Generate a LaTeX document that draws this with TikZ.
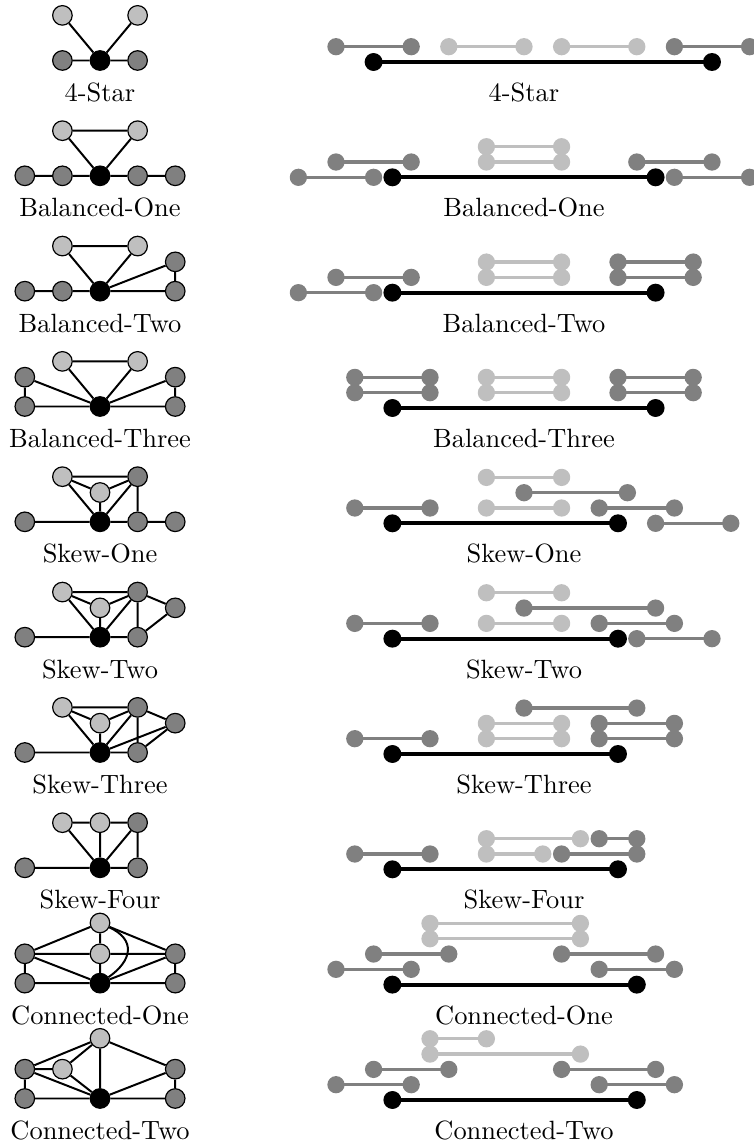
\documentclass[tikz,border=0pt]{standalone}
\usetikzlibrary{calc}
\tikzset{
 gn/.style={circle, draw=black, line width=0.9pt, minimum size=0.52cm, inner sep=0pt},
 gl/.style={gn, fill=black!25},
 gd/.style={gn, fill=black!50},
 gb/.style={gn, fill=black},
 ge/.style={line width=1.5pt},
 lbl/.style={anchor=base, font=\fontsize{10}{12}\selectfont, inner sep=0pt},
 ivL/.style={draw=black!25, fill=black!25, line width=2.5pt},
 ivD/.style={draw=black!50, fill=black!50, line width=2.5pt},
 ivB/.style={draw=black, fill=black, line width=3pt},
}
\newcommand{\ivl}[5]{%
 \coordinate (#1l) at (#3,#5*0.407);
 \coordinate (#1r) at (#4,#5*0.407);
 \draw[#2] (#1l) -- (#1r);
 \fill[#2] (#1l) circle (0.185) (#1r) circle (0.185);
}
\newcommand{\lab}[1]{\scalebox{2}{#1}}
\begin{document}
\begin{tikzpicture}
\useasboundingbox (0,0) rectangle (20.027,-30.532);
% ---------------- 4-Star
\begin{scope}[shift={(2.66,-1.609)}]
\node[gl] (A-L) at (-1,1.2) {};
\node[gl] (A-R) at (1,1.2) {};
\node[gd] (A-a) at (-1,0) {};
\node[gb] (A-c) at (0,0) {};
\node[gd] (A-d) at (1,0) {};
\draw[ge] (A-c)--(A-L) (A-c)--(A-R) (A-c)--(A-a) (A-c)--(A-d);
\end{scope}
\begin{scope}[shift={(8.936,-1.649)}]
\ivl{A1}{ivD}{0}{2}{1}
\ivl{A2}{ivL}{3}{5}{1}
\ivl{A3}{ivL}{6}{8}{1}
\ivl{A4}{ivD}{9}{11}{1}
\ivl{A5}{ivB}{1}{10}{0}
\end{scope}
\node[lbl] (A-lab1) at (2.66,-2.699) {\lab{4-Star}};
\node[lbl] (A-lab2) at (13.936,-2.699) {\lab{4-Star}};
% ---------------- Balanced-One
\begin{scope}[shift={(2.66,-4.676)}]
\node[gl] (B-L) at (-1,1.2) {};
\node[gl] (B-R) at (1,1.2) {};
\node[gd] (B-a) at (-2,0) {};
\node[gd] (B-b) at (-1,0) {};
\node[gb] (B-c) at (0,0) {};
\node[gd] (B-d) at (1,0) {};
\node[gd] (B-e) at (2,0) {};
\draw[ge] (B-L)--(B-R) (B-L)--(B-c) (B-R)--(B-c) (B-a)--(B-b) (B-b)--(B-c) (B-c)--(B-d) (B-d)--(B-e);
\end{scope}
\begin{scope}[shift={(8.936,-4.716)}]
\ivl{B1}{ivL}{4}{6}{2}
\ivl{B2}{ivL}{4}{6}{1}
\ivl{B3}{ivD}{0}{2}{1}
\ivl{B4}{ivD}{-1}{1}{0}
\ivl{B5}{ivD}{8}{10}{1}
\ivl{B6}{ivD}{9}{11}{0}
\ivl{B7}{ivB}{1.5}{8.5}{0}
\end{scope}
\node[lbl] (B-lab1) at (2.66,-5.766) {\lab{Balanced-One}};
\node[lbl] (B-lab2) at (13.936,-5.766) {\lab{Balanced-One}};
% ---------------- Balanced-Two
\begin{scope}[shift={(2.66,-7.744)}]
\node[gl] (C-L) at (-1,1.2) {};
\node[gl] (C-R) at (1,1.2) {};
\node[gd] (C-a) at (-2,0) {};
\node[gd] (C-b) at (-1,0) {};
\node[gb] (C-c) at (0,0) {};
\node[gd] (C-d) at (2,0) {};
\node[gd] (C-e) at (2,0.78) {};
\draw[ge] (C-L)--(C-R) (C-L)--(C-c) (C-R)--(C-c) (C-a)--(C-b) (C-b)--(C-c) (C-c)--(C-d) (C-c)--(C-e) (C-e)--(C-d);
\end{scope}
\begin{scope}[shift={(8.936,-7.784)}]
\ivl{C1}{ivL}{4}{6}{2}
\ivl{C2}{ivL}{4}{6}{1}
\ivl{C3}{ivD}{0}{2}{1}
\ivl{C4}{ivD}{-1}{1}{0}
\ivl{C5}{ivD}{7.5}{9.5}{2}
\ivl{C6}{ivD}{7.5}{9.5}{1}
\ivl{C7}{ivB}{1.5}{8.5}{0}
\end{scope}
\node[lbl] (C-lab1) at (2.66,-8.834) {\lab{Balanced-Two}};
\node[lbl] (C-lab2) at (13.936,-8.834) {\lab{Balanced-Two}};
% ---------------- Balanced-Three
\begin{scope}[shift={(2.66,-10.811)}]
\node[gl] (D-L) at (-1,1.2) {};
\node[gl] (D-R) at (1,1.2) {};
\node[gd] (D-a) at (-2,0) {};
\node[gd] (D-b) at (-2,0.78) {};
\node[gb] (D-c) at (0,0) {};
\node[gd] (D-d) at (2,0) {};
\node[gd] (D-e) at (2,0.78) {};
\draw[ge] (D-L)--(D-R) (D-L)--(D-c) (D-R)--(D-c) (D-b)--(D-a) (D-a)--(D-c) (D-b)--(D-c) (D-e)--(D-d) (D-d)--(D-c) (D-e)--(D-c);
\end{scope}
\begin{scope}[shift={(8.936,-10.851)}]
\ivl{D1}{ivD}{0.5}{2.5}{2}
\ivl{D2}{ivD}{0.5}{2.5}{1}
\ivl{D3}{ivL}{4}{6}{2}
\ivl{D4}{ivL}{4}{6}{1}
\ivl{D5}{ivD}{7.5}{9.5}{2}
\ivl{D6}{ivD}{7.5}{9.5}{1}
\ivl{D7}{ivB}{1.5}{8.5}{0}
\end{scope}
\node[lbl] (D-lab1) at (2.66,-11.901) {\lab{Balanced-Three}};
\node[lbl] (D-lab2) at (13.936,-11.901) {\lab{Balanced-Three}};
% ---------------- Skew-One
\begin{scope}[shift={(2.66,-13.878)}]
\node[gl] (E-L) at (-1,1.2) {};
\node[gl] (E-M) at (0,0.78) {};
\node[gd] (E-R) at (1,1.2) {};
\node[gd] (E-a) at (-2,0) {};
\node[gb] (E-c) at (0,0) {};
\node[gd] (E-d) at (1,0) {};
\node[gd] (E-e) at (2,0) {};
\draw[ge] (E-L)--(E-R) (E-L)--(E-M) (E-M)--(E-R) (E-L)--(E-c) (E-M)--(E-c) (E-R)--(E-c) (E-R)--(E-d) (E-a)--(E-c) (E-c)--(E-d) (E-d)--(E-e);
\end{scope}
\begin{scope}[shift={(8.936,-13.918)}]
\ivl{E1}{ivL}{4}{6}{3}
\ivl{E2}{ivD}{5}{7.75}{2}
\ivl{E3}{ivD}{0.5}{2.5}{1}
\ivl{E4}{ivL}{4}{6}{1}
\ivl{E5}{ivD}{7}{9}{1}
\ivl{E6}{ivB}{1.5}{7.5}{0}
\ivl{E7}{ivD}{8.5}{10.5}{0}
\end{scope}
\node[lbl] (E-lab1) at (2.66,-14.968) {\lab{Skew-One}};
\node[lbl] (E-lab2) at (13.936,-14.968) {\lab{Skew-One}};
% ---------------- Skew-Two
\begin{scope}[shift={(2.66,-16.946)}]
\node[gl] (F-L) at (-1,1.2) {};
\node[gl] (F-M) at (0,0.78) {};
\node[gd] (F-R) at (1,1.2) {};
\node[gd] (F-F) at (2,0.78) {};
\node[gd] (F-a) at (-2,0) {};
\node[gb] (F-c) at (0,0) {};
\node[gd] (F-d) at (1,0) {};
\draw[ge] (F-L)--(F-R) (F-L)--(F-M) (F-M)--(F-R) (F-L)--(F-c) (F-M)--(F-c) (F-R)--(F-c) (F-R)--(F-d) (F-R)--(F-F) (F-F)--(F-d) (F-a)--(F-c) (F-c)--(F-d);
\end{scope}
\begin{scope}[shift={(8.936,-16.986)}]
\ivl{F1}{ivL}{4}{6}{3}
\ivl{F2}{ivD}{5}{8.5}{2}
\ivl{F3}{ivD}{0.5}{2.5}{1}
\ivl{F4}{ivL}{4}{6}{1}
\ivl{F5}{ivD}{7}{9}{1}
\ivl{F6}{ivB}{1.5}{7.5}{0}
\ivl{F7}{ivD}{8}{10}{0}
\end{scope}
\node[lbl] (F-lab1) at (2.66,-18.036) {\lab{Skew-Two}};
\node[lbl] (F-lab2) at (13.936,-18.036) {\lab{Skew-Two}};
% ---------------- Skew-Three
\begin{scope}[shift={(2.66,-20.013)}]
\node[gl] (G-L) at (-1,1.2) {};
\node[gl] (G-M) at (0,0.78) {};
\node[gd] (G-R) at (1,1.2) {};
\node[gd] (G-F) at (2,0.78) {};
\node[gd] (G-a) at (-2,0) {};
\node[gb] (G-c) at (0,0) {};
\node[gd] (G-d) at (1,0) {};
\draw[ge] (G-L)--(G-R) (G-L)--(G-M) (G-M)--(G-R) (G-L)--(G-c) (G-M)--(G-c) (G-R)--(G-c) (G-R)--(G-d) (G-R)--(G-F) (G-F)--(G-d) (G-F)--(G-c) (G-a)--(G-c) (G-c)--(G-d);
\end{scope}
\begin{scope}[shift={(8.936,-20.053)}]
\ivl{G1}{ivD}{5}{8}{3}
\ivl{G2}{ivL}{4}{6}{2}
\ivl{G3}{ivD}{7}{9}{2}
\ivl{G4}{ivD}{0.5}{2.5}{1}
\ivl{G5}{ivL}{4}{6}{1}
\ivl{G6}{ivD}{7}{9}{1}
\ivl{G7}{ivB}{1.5}{7.5}{0}
\end{scope}
\node[lbl] (G-lab1) at (2.66,-21.103) {\lab{Skew-Three}};
\node[lbl] (G-lab2) at (13.936,-21.103) {\lab{Skew-Three}};
% ---------------- Skew-Four
\begin{scope}[shift={(2.66,-23.080)}]
\node[gl] (H-L) at (-1,1.2) {};
\node[gl] (H-M) at (0,1.2) {};
\node[gd] (H-R) at (1,1.2) {};
\node[gd] (H-a) at (-2,0) {};
\node[gb] (H-c) at (0,0) {};
\node[gd] (H-d) at (1,0) {};
\draw[ge] (H-L)--(H-M) (H-M)--(H-R) (H-L)--(H-c) (H-M)--(H-c) (H-R)--(H-c) (H-R)--(H-d) (H-a)--(H-c) (H-c)--(H-d);
\end{scope}
\begin{scope}[shift={(8.936,-23.120)}]
\ivl{H1}{ivL}{4}{6.5}{2}
\ivl{H2}{ivD}{7}{8}{2}
\ivl{H3}{ivD}{0.5}{2.5}{1}
\ivl{H4}{ivL}{4}{5.5}{1}
\ivl{H5}{ivD}{6}{8}{1}
\ivl{H6}{ivB}{1.5}{7.5}{0}
\end{scope}
\node[lbl] (H-lab1) at (2.66,-24.170) {\lab{Skew-Four}};
\node[lbl] (H-lab2) at (13.936,-24.170) {\lab{Skew-Four}};
% ---------------- Connected-One
\begin{scope}[shift={(2.66,-26.147)}]
\node[gl] (I-T) at (0,1.6) {};
\node[gd] (I-ML) at (-2,0.78) {};
\node[gl] (I-M) at (0,0.78) {};
\node[gd] (I-MR) at (2,0.78) {};
\node[gd] (I-a) at (-2,0) {};
\node[gb] (I-c) at (0,0) {};
\node[gd] (I-e) at (2,0) {};
\draw[ge] (I-T)--(I-ML) (I-T)--(I-M) (I-T)--(I-MR) (I-ML)--(I-M) (I-M)--(I-MR) (I-ML)--(I-c) (I-M)--(I-c) (I-MR)--(I-c) (I-ML)--(I-a) (I-MR)--(I-e) (I-a)--(I-c) (I-c)--(I-e);
\draw[ge] (I-T) to[out=-25,in=35,looseness=1.5] (I-c);
\end{scope}
\begin{scope}[shift={(8.936,-26.187)}]
\ivl{I1}{ivL}{2.5}{6.5}{4}
\ivl{I2}{ivL}{2.5}{6.5}{3}
\ivl{I3}{ivD}{1}{3}{2}
\ivl{I4}{ivD}{6}{8.5}{2}
\ivl{I5}{ivD}{0}{2}{1}
\ivl{I6}{ivD}{7}{9}{1}
\ivl{I7}{ivB}{1.5}{8}{0}
\end{scope}
\node[lbl] (I-lab1) at (2.66,-27.237) {\lab{Connected-One}};
\node[lbl] (I-lab2) at (13.936,-27.237) {\lab{Connected-One}};
% ---------------- Connected-Two
\begin{scope}[shift={(2.66,-29.215)}]
\node[gl] (J-T) at (0,1.6) {};
\node[gd] (J-ML) at (-2,0.78) {};
\node[gl] (J-M) at (-1,0.78) {};
\node[gd] (J-MR) at (2,0.78) {};
\node[gd] (J-a) at (-2,0) {};
\node[gb] (J-c) at (0,0) {};
\node[gd] (J-e) at (2,0) {};
\draw[ge] (J-T)--(J-ML) (J-T)--(J-M) (J-T)--(J-c) (J-T)--(J-MR) (J-ML)--(J-M) (J-ML)--(J-c) (J-M)--(J-c) (J-MR)--(J-c) (J-ML)--(J-a) (J-MR)--(J-e) (J-a)--(J-c) (J-c)--(J-e);
\end{scope}
\begin{scope}[shift={(8.936,-29.255)}]
\ivl{J1}{ivL}{2.5}{4}{4}
\ivl{J2}{ivL}{2.5}{6.5}{3}
\ivl{J3}{ivD}{1}{3}{2}
\ivl{J4}{ivD}{6}{8.5}{2}
\ivl{J5}{ivD}{0}{2}{1}
\ivl{J6}{ivD}{7}{9}{1}
\ivl{J7}{ivB}{1.5}{8}{0}
\end{scope}
\node[lbl] (J-lab1) at (2.66,-30.305) {\lab{Connected-Two}};
\node[lbl] (J-lab2) at (13.936,-30.305) {\lab{Connected-Two}};
\end{tikzpicture}
\end{document}
